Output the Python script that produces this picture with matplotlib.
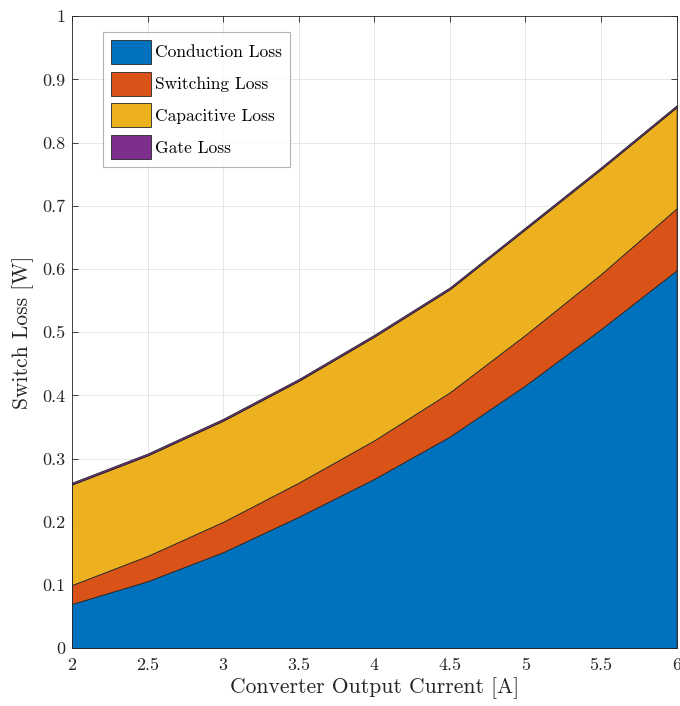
import matplotlib
matplotlib.use("Agg")
import matplotlib.pyplot as plt
import numpy as np
from matplotlib.ticker import FormatStrFormatter, MultipleLocator

# LaTeX-like look with the bundled Computer Modern font
plt.rcParams.update({
    "font.family": ["cmr10", "DejaVu Serif"],
    "mathtext.fontset": "cm",
    "axes.formatter.use_mathtext": True,
    "axes.unicode_minus": False,
})

current = [2.0, 2.5, 3.0, 3.5, 4.0, 4.5, 5.0, 5.5, 6.0]
conduction_loss = [0.070, 0.106, 0.152, 0.208, 0.268, 0.335, 0.416, 0.505, 0.598]
switching_loss = [0.030, 0.040, 0.048, 0.054, 0.061, 0.070, 0.080, 0.087, 0.098]
capacitive_loss = [0.159, 0.159, 0.160, 0.161, 0.164, 0.163, 0.167, 0.166, 0.160]
gate_loss = [0.003, 0.003, 0.003, 0.003, 0.003, 0.003, 0.003, 0.003, 0.003]
labels = ["Conduction Loss", "Switching Loss", "Capacitive Loss", "Gate Loss"]
colors = ["#0072BD", "#D95319", "#EDB120", "#7E2F8E"]

fig = plt.figure(figsize=(6.8, 7.06), dpi=100)
ax = fig.add_axes([0.106, 0.082, 0.889, 0.895])

ax.stackplot(
    current,
    conduction_loss,
    switching_loss,
    capacitive_loss,
    gate_loss,
    labels=labels,
    colors=colors,
    edgecolor="#262626",
    linewidth=0.6,
    zorder=2,
)

ax.set_xlim(2, 6)
ax.set_ylim(0, 1)
ax.xaxis.set_major_locator(MultipleLocator(0.5))
ax.yaxis.set_major_locator(MultipleLocator(0.1))
ax.xaxis.set_major_formatter(FormatStrFormatter("%g"))
ax.yaxis.set_major_formatter(FormatStrFormatter("%g"))
ax.tick_params(direction="in", top=True, right=True, length=4, width=0.6,
               color="#262626", labelsize=13, labelcolor="#262626", pad=5)
ax.tick_params(axis="x", pad=7)
ax.grid(True, color="#262626", alpha=0.12, linewidth=0.6, zorder=0)
ax.set_axisbelow(True)
for spine in ax.spines.values():
    spine.set_color("#262626")
    spine.set_linewidth(0.6)
    spine.set_zorder(5)

ax.set_xlabel("Converter Output Current [A]", fontsize=15.5, color="#262626", labelpad=3)
ax.set_ylabel("Switch Loss [W]", fontsize=15.5, color="#262626", labelpad=6)

leg = ax.legend(
    loc="upper left",
    bbox_to_anchor=(0.051, 0.975),
    borderaxespad=0,
    fontsize=12.5,
    frameon=True,
    fancybox=False,
    edgecolor="#a0a0a0",
    handlelength=2.3,
    handleheight=1.75,
    handletextpad=0.25,
    labelspacing=0.45,
    borderpad=0.45,
)
leg.get_frame().set_linewidth(0.8)

fig.savefig("out.png", dpi=100)
